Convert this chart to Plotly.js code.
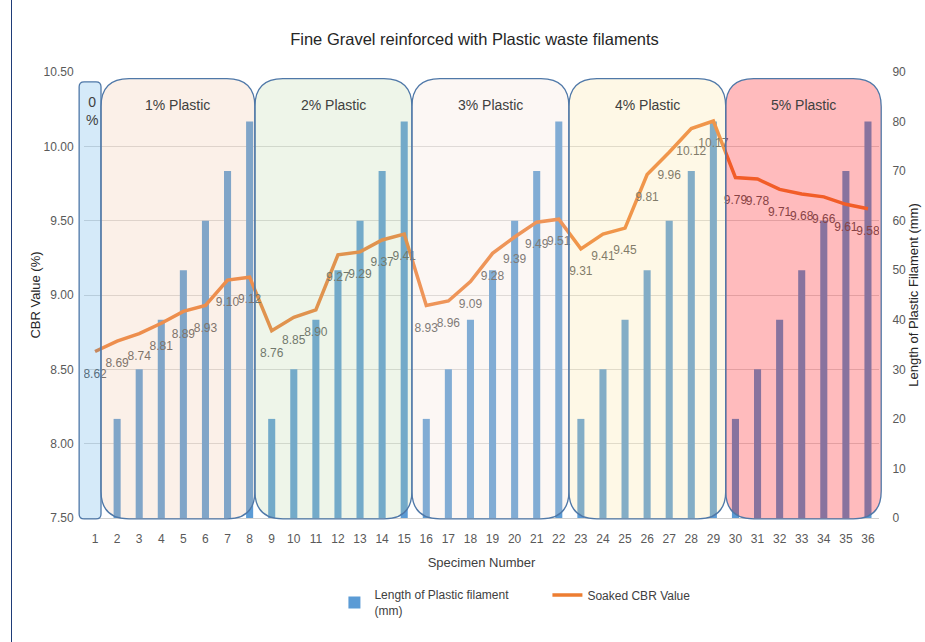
<!DOCTYPE html>
<html>
<head>
<meta charset="utf-8">
<script src="https://cdn.plot.ly/plotly-3.0.1.min.js"></script>
<style>
html,body{margin:0;padding:0;background:#fff;}
#wrap{position:relative;width:925px;height:642px;}
#chart{width:925px;height:642px;}
#edge{position:absolute;left:11px;top:0;width:1px;height:642px;background:#1f3c78;}
</style>
</head>
<body>
<div id="wrap"><div id="chart"></div><div id="edge"></div></div>
<script>
// ---- data ----
const specimens = [1,2,3,4,5,6,7,8,9,10,11,12,13,14,15,16,17,18,19,20,21,22,23,24,25,26,27,28,29,30,31,32,33,34,35,36];
const filamentLength = [0,20,30,40,50,60,70,80, 20,30,40,50,60,70,80, 20,30,40,50,60,70,80, 20,30,40,50,60,70,80, 20,30,40,50,60,70,80];
const cbrValues = [8.62,8.69,8.74,8.81,8.89,8.93,9.10,9.12, 8.76,8.85,8.90,9.27,9.29,9.37,9.41, 8.93,8.96,9.09,9.28,9.39,9.49,9.51, 9.31,9.41,9.45,9.81,9.96,10.12,10.17, 9.79,9.78,9.71,9.68,9.66,9.61,9.58];
const groupLabels = ['0<br>%','1% Plastic','2% Plastic','3% Plastic','4% Plastic','5% Plastic'];
const groupStart = [0.28, 1.27, 8.24, 15.35, 22.46, 29.56];
const groupEnd   = [1.27, 8.24, 15.35, 22.46, 29.56, 36.6];
const groupFill = ['rgba(86,171,231,0.25)','rgba(239,195,163,0.25)','rgba(187,215,167,0.25)','rgba(243,223,211,0.25)','rgba(251,227,155,0.25)','rgba(255,12,18,0.28)'];

// ---- layout geometry ----
const plotW = 795, plotH = 446;
const xmin = 0.5, xmax = 36.5;
function px(x){ return (x - xmin) / (xmax - xmin); }
function rr(x0,x1,y0,y1,rx,ry){
  return `M ${x0+rx},${y0} L ${x1-rx},${y0} Q ${x1},${y0} ${x1},${y0+ry} L ${x1},${y1-ry} Q ${x1},${y1} ${x1-rx},${y1} L ${x0+rx},${y1} Q ${x0},${y1} ${x0},${y1-ry} L ${x0},${y0+ry} Q ${x0},${y0} ${x0+rx},${y0} Z`;
}
const FONT = 'Liberation Sans, Arial, sans-serif';
const shapes = [];
const annotations = [];
groupLabels.forEach((lab,i)=>{
  const x0 = px(groupStart[i]), x1 = px(groupEnd[i]);
  const r = i===0 ? 5 : 28;
  const top = i===0 ? 0.978 : 0.985;
  shapes.push({type:'path', xref:'paper', yref:'paper', layer:'above',
    path: rr(x0,x1,-0.002,top,r/plotW,r/plotH),
    fillcolor: groupFill[i], line:{color:'#4f78a8', width:1.3}});
  annotations.push({xref:'paper', yref:'paper', x:(x0+x1)/2 + (i===0?2/plotW:0), y: i===0 ? 0.912 : 0.925,
    text: lab, showarrow:false, font:{family:FONT, size:14, color:'#404040'},
    xanchor:'center', yanchor:'middle'});
});

const traces = [
  {type:'bar', name:'Length of Plastic filament<br>(mm)', x:specimens, y:filamentLength, yaxis:'y',
   width:0.32, marker:{color:'#5b9bd5'}, hoverinfo:'skip'},
  {type:'scatter', name:'Soaked CBR Value', x:specimens, y:cbrValues, yaxis:'y2',
   mode:'lines+markers+text', line:{color:'#ed7d31', width:3.5},
   marker:{size:26, color:'rgba(0,0,0,0)'},
   text: cbrValues.map(v=>v.toFixed(2)), textposition:'bottom center',
   textfont:{family:FONT, size:12, color:'#595959'}}
];

const tickFont = {family:FONT, size:12, color:'#595959'};
const layout = {
  width:925, height:642,
  margin:{l:84, r:46, t:72, b:124},
  paper_bgcolor:'#fff', plot_bgcolor:'rgba(0,0,0,0)',
  title:{text:'Fine Gravel reinforced with Plastic waste filaments', x:0.513, xanchor:'center', y:0.948,
    font:{family:FONT, size:16.5, color:'#262626'}},
  showlegend:true,
  legend:{orientation:'h', x:0.315, xanchor:'left', y:-0.14, yanchor:'top',
    font:{family:FONT, size:12, color:'#404040'},
    entrywidth:168, traceorder:'normal'},
  xaxis:{range:[xmin,xmax], tickmode:'array', tickvals:specimens, ticktext:specimens.map(String),
    showgrid:false, zeroline:false, showline:true, linecolor:'#d0d0d0', linewidth:1,
    ticks:'outside', ticklen:10, tickcolor:'rgba(0,0,0,0)',
    tickfont:tickFont,
    title:{text:'Specimen Number', standoff:12, font:{family:FONT, size:13, color:'#404040'}}},
  yaxis:{range:[0,90], dtick:10, side:'right', showgrid:false, zeroline:false, tickfont:tickFont,
    ticks:'outside', ticklen:10, tickcolor:'rgba(0,0,0,0)',
    title:{text:'Length of Plastic Filament (mm)', standoff:3, font:{family:FONT, size:13, color:'#262626'}}},
  yaxis2:{range:[7.5,10.5], dtick:0.5, tickformat:'.2f', side:'left', overlaying:'y',
    ticks:'outside', ticklen:7, tickcolor:'rgba(0,0,0,0)',
    showgrid:true, gridcolor:'#d9d9d9', zeroline:false, tickfont:tickFont,
    title:{text:'CBR Value (%)', standoff:0, font:{family:FONT, size:13, color:'#262626'}}},
  shapes: shapes,
  annotations: annotations
};
Plotly.newPlot('chart', traces, layout, {displayModeBar:false, staticPlot:true});
</script>
</body>
</html>
